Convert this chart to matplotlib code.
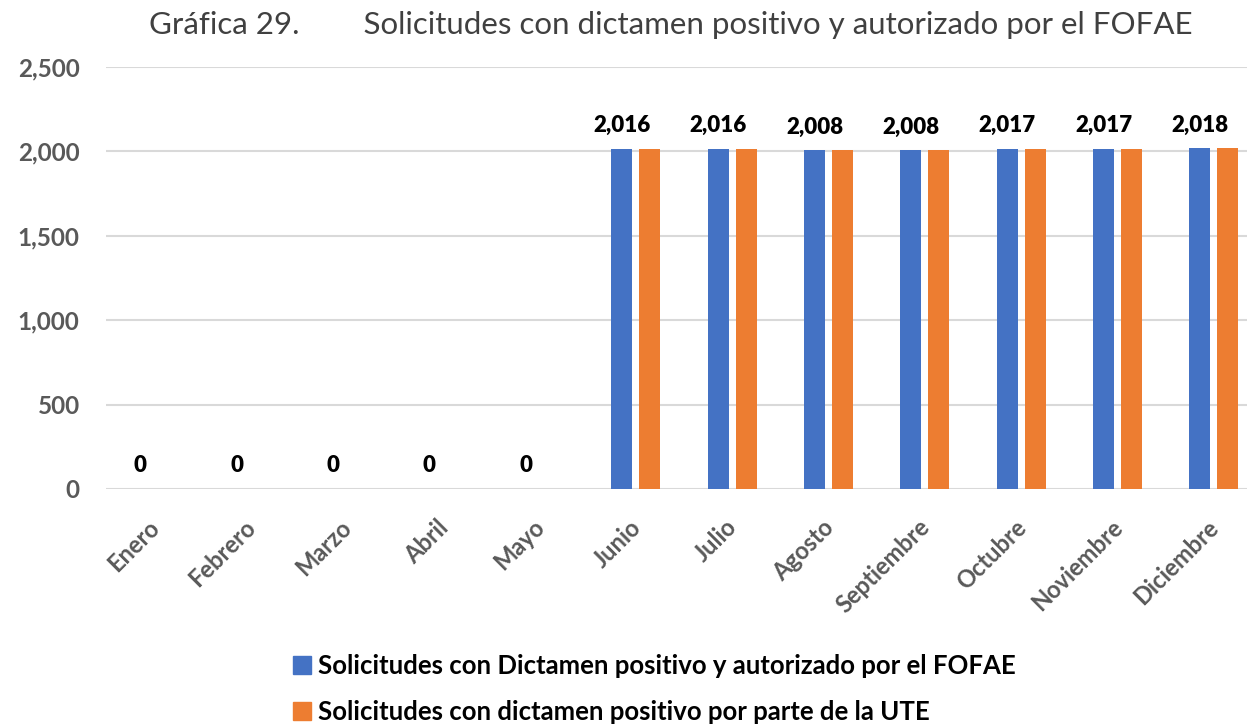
import numpy as np
import matplotlib.pyplot as plt
import matplotlib.transforms as mtransforms
from matplotlib.patches import Patch

# Datos
meses = ["Enero", "Febrero", "Marzo", "Abril", "Mayo", "Junio", "Julio",
         "Agosto", "Septiembre", "Octubre", "Noviembre", "Diciembre"]
autorizado_fofae = [0, 0, 0, 0, 0, 2016, 2016, 2008, 2008, 2017, 2017, 2018]
dictamen_ute = [0, 0, 0, 0, 0, 2016, 2016, 2008, 2008, 2017, 2017, 2018]

serie1 = "Solicitudes con Dictamen positivo y autorizado por el FOFAE"
serie2 = "Solicitudes con dictamen positivo por parte de la UTE"
titulo = "Gráfica 29.        Solicitudes con dictamen positivo y autorizado por el FOFAE"

azul = "#4472C4"
naranja = "#ED7D31"
gris = "#595959"

plt.rcParams['font.family'] = ['Lato', 'DejaVu Sans']

fig = plt.figure(figsize=(12.47, 7.28), dpi=100)
ax = fig.add_axes([106 / 1247, 1 - 489 / 728, 1156 / 1247, (489 - 67) / 728])

x = np.arange(len(meses))
w = 0.22
ax.bar(x - 0.145, autorizado_fofae, w, color=azul, zorder=2)
ax.bar(x + 0.145, dictamen_ute, w, color=naranja, zorder=2)

# Etiquetas de datos (solo primera serie)
for xi, v in zip(x, autorizado_fofae):
    ax.annotate(f"{v:,}", (xi - 0.145, v), xytext=(0, 9), textcoords="offset points",
                ha="center", va="bottom", fontsize=16, fontweight="heavy", color="black")

ax.set_xlim(-0.5, len(meses) - 0.5)
ax.set_ylim(0, 2500)
ax.set_yticks(range(0, 2501, 500))
ax.yaxis.set_major_formatter(plt.FuncFormatter(lambda v, p: f"{int(v):,}"))
ax.grid(axis="y", color="#D9D9D9", linewidth=1.5, zorder=0)
ax.set_axisbelow(True)
for s in ax.spines.values():
    s.set_visible(False)
ax.tick_params(length=0)
ax.tick_params(axis="y", pad=19, labelsize=17.5, labelcolor=gris)
ax.tick_params(axis="x", pad=19, labelsize=17, labelcolor=gris)
for lab in ax.get_yticklabels():
    lab.set_fontweight("bold")

ax.set_xticks(x)
ax.set_xticklabels(meses, rotation=45, ha="right", rotation_mode="anchor",
                   fontweight="bold")
desplaza = mtransforms.ScaledTranslation(-7 / 100, 0, fig.dpi_scale_trans)
for lab in ax.get_xticklabels():
    lab.set_transform(lab.get_transform() + desplaza)

fig.text(0.538, 0.965, titulo, ha="center", va="center", fontsize=22.5,
         fontweight="normal", color="#404040")

handles = [Patch(color=azul), Patch(color=naranja)]
fig.legend(handles, [serie1, serie2], loc="upper left",
           bbox_to_anchor=(283 / 1247, 1 - 644 / 728), frameon=False,
           prop={"size": 18.5, "weight": "bold"}, labelspacing=0.85,
           handlelength=0.7, handleheight=0.7, handletextpad=0.25,
           borderaxespad=0)

fig.savefig("out.png", dpi=100)
